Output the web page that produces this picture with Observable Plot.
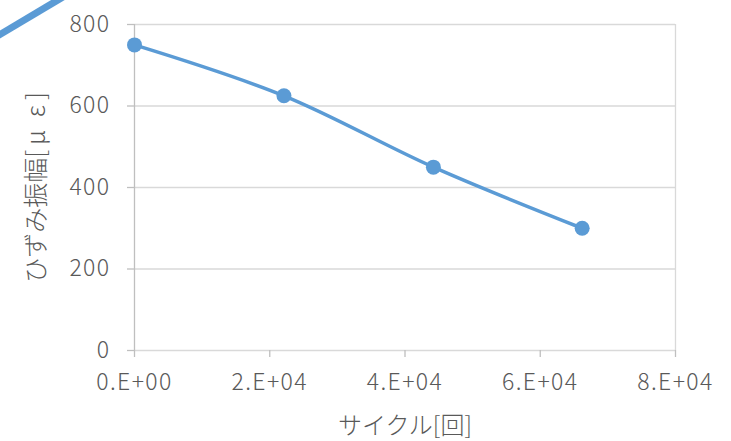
<!DOCTYPE html>
<html>
<head>
<meta charset="utf-8">
<script src="https://cdn.jsdelivr.net/npm/d3@7"></script>
<script src="https://cdn.jsdelivr.net/npm/@observablehq/plot@0.6"></script>
<style>
  html, body { margin: 0; padding: 0; background: #fff; }
  #wrap { position: relative; width: 731px; height: 441px; overflow: hidden; }
  #deco { position: absolute; left: -10px; top: 36.5px; width: 100px; height: 7px; background: #5B9BD5; transform-origin: 0 50%; transform: rotate(-30.8deg); }
  svg [aria-label="x-axis tick label"] text, svg [aria-label="y-axis tick label"] text { letter-spacing: 1.4px; }
  svg [aria-label="x-axis label"] text { font-size: 24px; }
  svg [aria-label="y-axis label"] text { font-size: 25px; }
</style>
</head>
<body>
<div id="wrap"><div id="deco"></div></div>
<script>
const cycles = [0, 22100, 44200, 66200];
const amplitude = [750, 625, 450, 300];
const xTicks = [0, 20000, 40000, 60000, 80000];
const xTickLabels = ["0.E+00", "2.E+04", "4.E+04", "6.E+04", "8.E+04"];
const yTicks = [0, 200, 400, 600, 800];
const xLabel = "サイクル[回]";
const yLabel = "ひずみ振幅[\u2009μ\u2002ε\u2009]";

const data = cycles.map((c, i) => ({x: c, y: amplitude[i]}));
const font = "'Noto Sans CJK JP', 'Noto Sans', sans-serif";
const grid = "#D9D9D9";
const blue = "#5B9BD5";

const chart = Plot.plot({
  width: 731,
  height: 441,
  marginLeft: 134,
  marginRight: 56,
  marginTop: 24,
  marginBottom: 91,
  style: {fontFamily: font, fontSize: "23px", color: "#595959", fontWeight: 300, background: "transparent"},
  x: {domain: [0, 80000]},
  y: {domain: [0, 800]},
  marks: [
    Plot.ruleY(yTicks, {stroke: grid, strokeWidth: 1.3}),
    Plot.ruleX([80000], {y1: 0, y2: 800, stroke: grid, strokeWidth: 1.3}),
    Plot.ruleX([0], {y1: 0, y2: 800, stroke: "#BFBFBF", strokeWidth: 1.3}),
    Plot.axisX({
      ticks: xTicks,
      tickFormat: (d) => xTickLabels[xTicks.indexOf(d)],
      tickSize: 7,
      tickPadding: 16,
      stroke: "#BFBFBF",
      strokeWidth: 1.3,
      label: xLabel,
      labelAnchor: "center",
      labelOffset: 83,
      labelArrow: "none"
    }),
    Plot.axisY({
      ticks: yTicks,
      tickSize: 7,
      tickPadding: 17,
      stroke: "#BFBFBF",
      strokeWidth: 1.3,
      label: yLabel,
      labelAnchor: "center",
      labelOffset: 107,
      labelArrow: "none"
    }),
    Plot.line(data, {x: "x", y: "y", stroke: blue, strokeWidth: 3.5, curve: "catmull-rom"}),
    Plot.dot(data, {x: "x", y: "y", r: 7.5, fill: blue, stroke: "none"})
  ]
});
document.getElementById("wrap").prepend(chart);
</script>
</body>
</html>
